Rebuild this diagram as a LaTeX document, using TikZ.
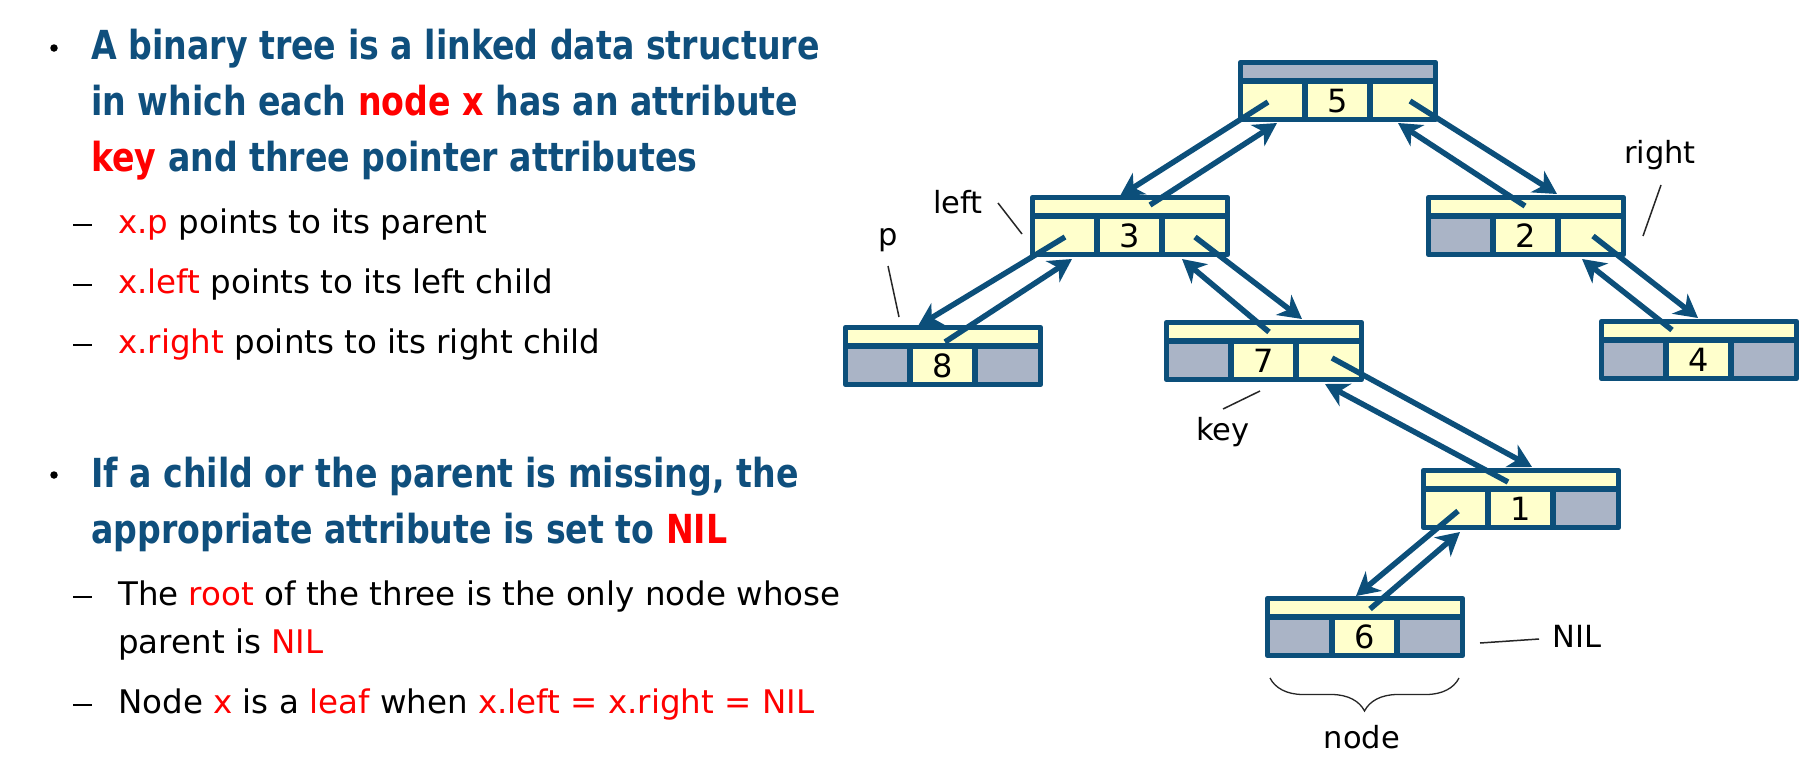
\documentclass[tikz,border=0pt]{standalone}
\usepackage{fontspec}
\setmainfont{DejaVu Sans}
\newfontfamily\headfont{DejaVu Sans}[FakeStretch=0.83]
\usetikzlibrary{arrows.meta,calc,decorations.pathreplacing}
\definecolor{bord}{HTML}{0C4F7A}
\definecolor{headblue}{HTML}{0F4F7D}
\definecolor{cellyel}{HTML}{FFFFCC}
\definecolor{cellgray}{HTML}{AAB4C6}
\definecolor{nilred}{HTML}{FF0000}
\tikzset{
 ptr/.style={draw=bord, line width=5.5pt, -{Stealth[length=23pt,width=25pt,inset=7pt]}},
 boxline/.style={draw=bord, line width=5.5pt, line join=round},
 lead/.style={draw=black!85, line width=1.5pt},
 lbl/.style={font=\fontsize{30.5}{36}\selectfont, inner sep=0pt, anchor=base},
 keytxt/.style={font=\fontsize{32}{38}\selectfont, inner sep=0pt},
 head/.style={font=\headfont\bfseries\fontsize{40}{48}\selectfont, text=headblue, inner sep=0pt, anchor=base west},
 sub/.style={font=\fontsize{32.5}{39}\selectfont, text=black, inner sep=0pt, anchor=base west},
 bul/.style={fill=black, circle, inner sep=0pt, minimum size=7.5pt},
}
\newcommand\tnode[7]{%
 \begin{scope}[shift={(#2,#3)}]
  \fill[#5] (2.5,2.5) rectangle (197.5,21);
  \fill[#6] (2.5,21) rectangle (67,59.5);
  \fill[cellyel] (67,21) rectangle (132,59.5);
  \fill[#7] (132,21) rectangle (197.5,59.5);
  \draw[boxline] (2.5,2.5) rectangle (197.5,59.5);
  \draw[boxline] (2.5,21) -- (197.5,21) (67,21) -- (67,59.5) (132,21) -- (132,59.5);
  \node[keytxt] (#1-key) at (99.5,41) {#4};
  \node[inner sep=0pt, outer sep=0pt, minimum width=200pt, minimum height=62pt, anchor=north west] (#1) at (0,0) {};
 \end{scope}}
\newcommand\subdash{\rule[7.5pt]{19pt}{1.8pt}}
\begin{document}
\begin{tikzpicture}[x=1pt,y=-1pt]
\fill[white] (0,0) rectangle (1811,769);
\useasboundingbox (0,0) rectangle (1811,769);

% left text
\node[bul] (b1) at (54,48) {};
\node[head] (h1) at (91,59) {A binary tree is a linked data structure};
\node[head] (h2) at (91,115) {in which each \textcolor{nilred}{node x} has an attribute};
\node[head] (h3) at (91,171) {\textcolor{nilred}{key} and three pointer attributes};
\node[sub] (d1) at (73,233) {\subdash};
\node[sub] (s1) at (118,233) {\textcolor{nilred}{x.p} points to its parent};
\node[sub] (d2) at (73,293) {\subdash};
\node[sub] (s2) at (118,293) {\textcolor{nilred}{x.left} points to its left child};
\node[sub] (d3) at (73,353) {\subdash};
\node[sub] (s3) at (118,353) {\textcolor{nilred}{x.right} points to its right child};

\node[bul] (b2) at (54,475) {};
\node[head] (h4) at (91,487) {If a child or the parent is missing, the};
\node[head] (h5) at (91,543) {appropriate attribute is set to \textcolor{nilred}{NIL}};
\node[sub] (d4) at (73,605) {\subdash};
\node[sub] (s4) at (118,605) {The \textcolor{nilred}{root} of the three is the only node whose};
\node[sub] (s5) at (118,653) {parent is \textcolor{nilred}{NIL}};
\node[sub] (d6) at (73,713) {\subdash};
\node[sub] (s6) at (118,713) {Node \textcolor{nilred}{x} is a \textcolor{nilred}{leaf} when \textcolor{nilred}{x.left = x.right = NIL}};

% tree nodes
\tnode{n5}{1238}{60}{5}{cellgray}{cellyel}{cellyel}
\tnode{n3}{1030}{195}{3}{cellyel}{cellyel}{cellyel}
\tnode{n2}{1426}{195}{2}{cellyel}{cellgray}{cellyel}
\tnode{n8}{843}{325}{8}{cellyel}{cellgray}{cellgray}
\tnode{n7}{1164}{320}{7}{cellyel}{cellgray}{cellyel}
\tnode{n4}{1599}{319}{4}{cellyel}{cellgray}{cellgray}
\tnode{n1}{1421}{468}{1}{cellyel}{cellyel}{cellgray}
\tnode{n6}{1265}{596}{6}{cellyel}{cellgray}{cellgray}

% pointers
\draw[ptr] ($(n5.north west)+(30,42)$) -- ($(n3.north west)+(90,1)$);
\draw[ptr] ($(n3.north west)+(120,10)$) -- ($(n5.north west)+(39,63)$);
\draw[ptr] ($(n5.north west)+(172,41)$) -- ($(n2.north west)+(131,-1)$);
\draw[ptr] ($(n2.north west)+(99,11)$) -- ($(n5.north west)+(160,63)$);
\draw[ptr] ($(n3.north west)+(35,42)$) -- ($(n8.north west)+(75,1)$);
\draw[ptr] ($(n8.north west)+(102,17)$) -- ($(n3.north west)+(42,64)$);
\draw[ptr] ($(n3.north west)+(165,42)$) -- ($(n7.north west)+(138,-1)$);
\draw[ptr] ($(n7.north west)+(105,12)$) -- ($(n3.north west)+(152,64)$);
\draw[ptr] ($(n7.north west)+(168,38)$) -- ($(n1.north west)+(111,-1)$);
\draw[ptr] ($(n1.north west)+(87,14)$) -- ($(n7.north west)+(161,64)$);
\draw[ptr] ($(n2.north west)+(167,41)$) -- ($(n4.north west)+(99,-1)$);
\draw[ptr] ($(n4.north west)+(73,11)$) -- ($(n2.north west)+(156,64)$);
\draw[ptr] ($(n1.north west)+(37,43)$) -- ($(n6.north west)+(91,0)$);
\draw[ptr] ($(n6.north west)+(105,13)$) -- ($(n1.north west)+(39,64)$);

% labels
\node[lbl] (lleft) at (958,213) {left};
\coordinate (lleft-a) at (998,203); \coordinate (lleft-b) at (1022,234);
\draw[lead] (lleft-a) -- (lleft-b);
\node[lbl] (lp) at (888,245) {p};
\coordinate (lp-a) at (888,266); \coordinate (lp-b) at (899,317);
\draw[lead] (lp-a) -- (lp-b);
\node[lbl] (lright) at (1660,163) {right};
\coordinate (lright-a) at (1661,185); \coordinate (lright-b) at (1643,236);
\draw[lead] (lright-a) -- (lright-b);
\node[lbl] (lkey) at (1223,440) {key};
\coordinate (lkey-a) at (1223,409); \coordinate (lkey-b) at (1260,391);
\draw[lead] (lkey-a) -- (lkey-b);
\node[lbl, anchor=base west] (lnil) at (1552,647) {NIL};
\coordinate (lnil-a) at (1480,643); \coordinate (lnil-b) at (1539,639);
\draw[lead] (lnil-a) -- (lnil-b);
\node[lbl] (lnode) at (1362,748) {node};
\coordinate (br-a) at (1270,678); \coordinate (br-b) at (1459,678);
\draw[lead, line width=1.3pt, decorate, decoration={brace, mirror, amplitude=33pt, aspect=0.5}] (br-a) -- (br-b);
\end{tikzpicture}
\end{document}
